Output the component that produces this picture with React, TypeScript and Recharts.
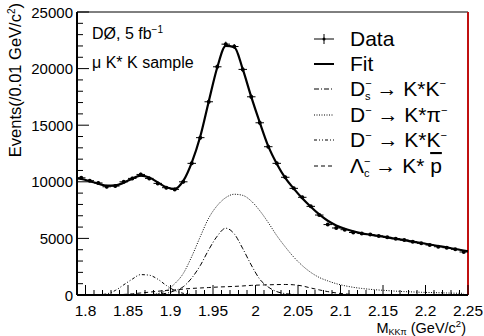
import React from 'react';
import { ComposedChart, Line, Scatter, ErrorBar, XAxis, YAxis, ReferenceLine } from 'recharts';

// bin centres (GeV/c^2), 0.01 wide bins
const binCenters = [
  1.795, 1.805, 1.815, 1.825, 1.835, 1.845, 1.855, 1.865, 1.875, 1.885,
  1.895, 1.905, 1.915, 1.925, 1.935, 1.945, 1.955, 1.965, 1.975, 1.985,
  1.995, 2.005, 2.015, 2.025, 2.035, 2.045, 2.055, 2.065, 2.075, 2.085,
  2.095, 2.105, 2.115, 2.125, 2.135, 2.145, 2.155, 2.165, 2.175, 2.185,
  2.195, 2.205, 2.215, 2.225, 2.235, 2.245,
];

const dataCounts = [
  10350, 10100, 9900, 9560, 9620, 10000, 10300, 10650, 10300, 9860,
  9480, 9330, 10000, 11630, 13900, 17070, 20160, 22160, 21950, 19930,
  17510, 15215, 13100, 11630, 10400, 9420, 8630, 7830, 7064, 6220,
  5920, 5770, 5520, 5430, 5340, 5220, 5095, 4970, 4856, 4706,
  4565, 4415, 4265, 4177, 4035, 3800,
];

const dataErrors = [
  150, 150, 150, 145, 145, 150, 150, 155, 150, 150,
  145, 145, 150, 160, 175, 195, 210, 220, 220, 210,
  195, 185, 170, 160, 150, 145, 140, 130, 125, 120,
  115, 115, 110, 110, 110, 110, 105, 105, 105, 100,
  100, 100, 95, 95, 95, 95,
];

const fitMasses = [1.79, ...binCenters, 2.25];
const fitValues = [
  10300,
  10250, 10050, 9830, 9660, 9680, 9920, 10280, 10550, 10380, 9950,
  9520, 9380, 10080, 11700, 14000, 17100, 20100, 22000, 21900, 19950,
  17500, 15250, 13150, 11600, 10350, 9400, 8550, 7800, 7120, 6560,
  6150, 5850, 5620, 5450, 5330, 5210, 5090, 4970, 4850, 4720,
  4590, 4460, 4330, 4200, 4060, 3930,
  3870,
];

// D_s -> K* K
const dsKK = [
  0, 0, 0, 0, 0, 0, 0, 0, 0, 80,
  150, 380, 730, 1500, 2600, 4000, 5200, 5900, 5400, 4100,
  2650, 1400, 700, 300, 120, 50, 0, 0, 0, 0,
  0, 0, 0, 0, 0, 0, 0, 0, 0, 0,
  0, 0, 0, 0, 0, 0,
];

// D -> K* pi
const dKpi = [
  0, 0, 0, 0, 0, 0, 0, 0, 30, 120,
  400, 1000, 1900, 3400, 5150, 6800, 7900, 8600, 8900, 8800,
  8300, 7450, 6400, 5250, 4250, 3350, 2600, 2000, 1550, 1250,
  1000, 820, 680, 580, 500, 440, 390, 340, 300, 270,
  240, 220, 200, 180, 160, 150,
];

// D -> K* K
const dKK = [
  0, 0, 20, 100, 400, 900, 1400, 1800, 1750, 1400,
  850, 400, 150, 50, 0, 0, 0, 0, 0, 0,
  0, 0, 0, 0, 0, 0, 0, 0, 0, 0,
  0, 0, 0, 0, 0, 0, 0, 0, 0, 0,
  0, 0, 0, 0, 0, 0,
];

// Lambda_c -> K* pbar
const lcKp = [
  0, 0, 0, 0, 0, 50, 100, 180, 250, 330,
  400, 450, 520, 580, 620, 660, 700, 730, 760, 800,
  850, 880, 900, 920, 930, 900, 800, 620, 450, 300,
  180, 100, 40, 0, 0, 0, 0, 0, 0, 0,
  0, 0, 0, 0, 0, 0,
];

const xMajor = [1.8, 1.85, 1.9, 1.95, 2.0, 2.05, 2.1, 2.15, 2.2, 2.25];
const yMajor = [0, 5000, 10000, 15000, 20000, 25000];

const W = 484;
const H = 336;
const FONT = '"Liberation Sans", Arial, Helvetica, sans-serif';

const xTicks: number[] = [];
for (let i = 0; i <= 45; i++) xTicks.push(Math.round((1.8 + i * 0.01) * 1000) / 1000);
const yTicks: number[] = [];
for (let i = 0; i <= 25; i++) yTicks.push(i * 1000);

const dataRows = binCenters.map((m, i) => ({ m, v: dataCounts[i], ey: dataErrors[i], ex: 0.005 }));
const fitRows = fitMasses.map((m, i) => ({ m, v: fitValues[i] }));
const compRows = binCenters.map((m, i) => ({ m, ds: dsKK[i], dpi: dKpi[i], dk: dKK[i], lc: lcKp[i] }));

const XTick = (props: any) => {
  const { x, y, payload } = props;
  const v = payload.value;
  const major = xMajor.some((t) => Math.abs(t - v) < 1e-6);
  return (
    <g>
      <line x1={x} x2={x} y1={y} y2={y - (major ? 10 : 5)} stroke="#000" strokeWidth={1} />
      {major && (
        <text x={x} y={y + 21} textAnchor="middle" fontSize={15.5} fontFamily={FONT} fill="#000">
          {String(Number(v.toFixed(2)))}
        </text>
      )}
    </g>
  );
};

const YTick = (props: any) => {
  const { x, y, payload } = props;
  const v = payload.value;
  const major = yMajor.includes(v);
  return (
    <g>
      <line x1={x} x2={x + (major ? 12 : 6)} y1={y} y2={y} stroke="#000" strokeWidth={1} />
      {major && (
        <text x={x - 4} y={y + 5.5} textAnchor="end" fontSize={15} fontFamily={FONT} fill="#000">
          {v}
        </text>
      )}
    </g>
  );
};

const Dot = (p: any) => <circle cx={p.cx} cy={p.cy} r={2} fill="#000" />;

const legendRows = [46, 71, 96, 122, 147, 173];

const Overlay = () => {
  const lx1 = 314;
  const lx2 = 334;
  const tx = 350;
  const fs = 21;
  const sub = 11;
  const mid = (b: number) => b - 7;
  return (
    <svg width={W} height={H} style={{ position: 'absolute', left: 0, top: 0, pointerEvents: 'none' }} fontFamily={FONT}>
      {/* y title */}
      <text x={21} y={3} transform="rotate(-90 21 3)" textAnchor="end" fontSize={16.5} fill="#000">
        Events(/0.01 GeV/c<tspan dy={-6} fontSize={10}>2</tspan><tspan dy={6}>)</tspan>
      </text>
      {/* x title */}
      <text x={466} y={333} textAnchor="end" fontSize={14.5} fill="#000">
        M<tspan dy={2} fontSize={9}>KKπ</tspan><tspan dy={-2}> (GeV/c</tspan><tspan dy={-6} fontSize={9.5}>2</tspan><tspan dy={6}>)</tspan>
      </text>
      {/* annotation */}
      <text x={92} y={39} fontSize={16} fill="#000">
        DØ, 5 fb<tspan dy={-6} fontSize={10}>−1</tspan>
      </text>
      <text x={92} y={68} fontSize={16} fill="#000">μ K* K sample</text>

      {/* legend */}
      <line x1={lx1} x2={lx2} y1={mid(legendRows[0])} y2={mid(legendRows[0])} stroke="#000" strokeWidth={1} />
      <line x1={324} x2={324} y1={mid(legendRows[0]) - 5} y2={mid(legendRows[0]) + 5} stroke="#000" strokeWidth={1} />
      <circle cx={324} cy={mid(legendRows[0])} r={1.5} fill="#000" />
      <text x={tx} y={legendRows[0]} fontSize={fs} fill="#000">Data</text>

      <line x1={lx1} x2={lx2} y1={mid(legendRows[1])} y2={mid(legendRows[1])} stroke="#000" strokeWidth={2} />
      <text x={tx} y={legendRows[1]} fontSize={fs} fill="#000">Fit</text>

      <line x1={lx1} x2={lx2} y1={mid(legendRows[2])} y2={mid(legendRows[2])} stroke="#000" strokeWidth={1} strokeDasharray="5 2 1 2" />
      <text x={tx} y={legendRows[2]} fontSize={fs} fill="#000">
        D<tspan dy={-9} fontSize={sub}>−</tspan><tspan dx={-6.5} dy={13} fontSize={sub}>s</tspan>
        <tspan dy={-4}> → K*K</tspan><tspan dy={-9} fontSize={sub}>−</tspan>
      </text>

      <line x1={lx1} x2={lx2} y1={mid(legendRows[3])} y2={mid(legendRows[3])} stroke="#000" strokeWidth={1} strokeDasharray="1 1.5" />
      <text x={tx} y={legendRows[3]} fontSize={fs} fill="#000">
        D<tspan dy={-8} fontSize={sub}>−</tspan><tspan dy={8}> → K*π</tspan><tspan dy={-8} fontSize={sub}>−</tspan>
      </text>

      <line x1={lx1} x2={lx2} y1={mid(legendRows[4])} y2={mid(legendRows[4])} stroke="#000" strokeWidth={1} strokeDasharray="3 2 1 2 1 2" />
      <text x={tx} y={legendRows[4]} fontSize={fs} fill="#000">
        D<tspan dy={-8} fontSize={sub}>−</tspan><tspan dy={8}> → K*K</tspan><tspan dy={-8} fontSize={sub}>−</tspan>
      </text>

      <line x1={lx1} x2={lx2} y1={mid(legendRows[5])} y2={mid(legendRows[5])} stroke="#000" strokeWidth={1} strokeDasharray="4 3" />
      <text x={tx} y={legendRows[5]} fontSize={fs} fill="#000">
        Λ<tspan dy={-8} fontSize={sub}>−</tspan><tspan dx={-6.5} dy={12} fontSize={sub}>c</tspan>
        <tspan dy={-4}> → K* </tspan><tspan style={{ textDecoration: 'overline' }}>p</tspan>
      </text>
    </svg>
  );
};

export default function App() {
  return (
    <div style={{ position: 'absolute', left: 0, top: 0, width: W, height: H, background: '#fff' }}>
      <ComposedChart width={W} height={H} margin={{ top: 12, right: 16, bottom: 0, left: 0 }}>
        <XAxis
          type="number"
          dataKey="m"
          domain={[1.79, 2.25]}
          ticks={xTicks}
          interval={0}
          allowDataOverflow
          height={41}
          tickSize={0}
          tickMargin={0}
          tickLine={false}
          tick={<XTick />}
          axisLine={{ stroke: '#000', strokeWidth: 2 }}
        />
        <YAxis
          type="number"
          domain={[0, 25000]}
          ticks={yTicks}
          interval={0}
          allowDataOverflow
          width={77}
          tickSize={0}
          tickMargin={0}
          tickLine={false}
          tick={<YTick />}
          axisLine={{ stroke: '#000', strokeWidth: 2 }}
        />
        <ReferenceLine y={25000} stroke="#000" strokeWidth={1} />
        <ReferenceLine x={2.25} stroke="#c01010" strokeWidth={2} />
        <Line data={compRows} dataKey="lc" type="monotone" stroke="#000" strokeWidth={1} strokeDasharray="4 3" dot={false} isAnimationActive={false} />
        <Line data={compRows} dataKey="dk" type="monotone" stroke="#000" strokeWidth={1} strokeDasharray="3 2 1 2 1 2" dot={false} isAnimationActive={false} />
        <Line data={compRows} dataKey="dpi" type="monotone" stroke="#000" strokeWidth={1} strokeDasharray="1 1.5" dot={false} isAnimationActive={false} />
        <Line data={compRows} dataKey="ds" type="monotone" stroke="#000" strokeWidth={1} strokeDasharray="5 2 1 2" dot={false} isAnimationActive={false} />
        <Line data={fitRows} dataKey="v" type="monotone" stroke="#000" strokeWidth={2.2} dot={false} isAnimationActive={false} />
        <Scatter data={dataRows} dataKey="v" shape={<Dot />} isAnimationActive={false}>
          <ErrorBar dataKey="ex" direction="x" width={0} stroke="#000" strokeWidth={1} />
          <ErrorBar dataKey="ey" direction="y" width={0} stroke="#000" strokeWidth={1} />
        </Scatter>
      </ComposedChart>
      <Overlay />
    </div>
  );
}
